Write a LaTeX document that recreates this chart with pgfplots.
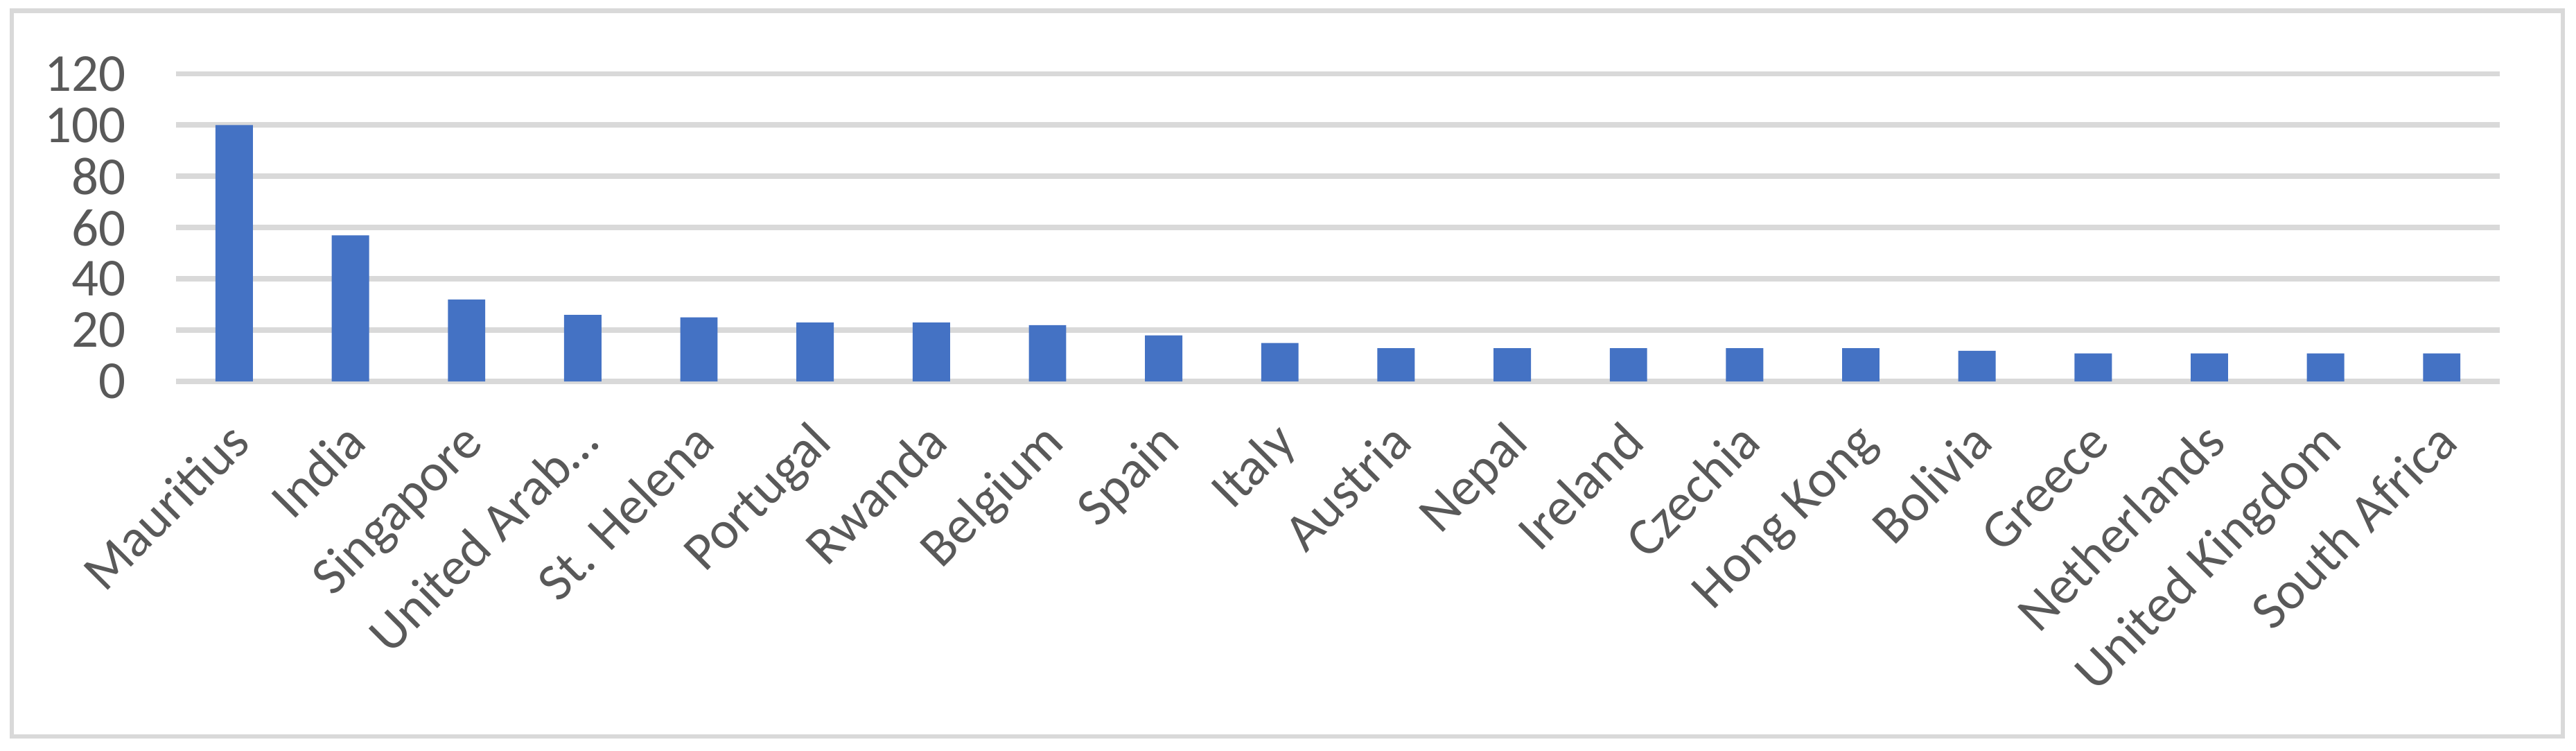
\documentclass[border=0pt]{standalone}
\usepackage{pgfplots}
\pgfplotsset{compat=1.18}
\usepackage{fontspec}
\setmainfont{Carlito}

\definecolor{barblue}{HTML}{4472C4}
\definecolor{gridgray}{HTML}{D9D9D9}
\definecolor{textgray}{HTML}{595959}

\begin{document}
\begin{tikzpicture}
    \begin{axis}[
        scale only axis,
        width=479pt,
        height=63.4pt,
        ybar,
        bar width=7.7pt,
        xmin=-0.5, xmax=19.5,
        ymin=0, ymax=120,
        ytick={0,20,...,120},
        xtick=data,
        xticklabels={Mauritius, India, Singapore, United Arab…, St. Helena,
            Portugal, Rwanda, Belgium, Spain, Italy, Austria, Nepal, Ireland,
            Czechia, Hong Kong, Bolivia, Greece, Netherlands, United Kingdom,
            South Africa},
        ymajorgrids,
        grid style={gridgray, line width=1.1pt},
        axis line style={draw=none},
        major tick length=0pt,
        tick style={draw=none},
        /pgf/number format/assume math mode=true,
        ticklabel style={font=\fontsize{11}{13}\selectfont, text=textgray},
        yticklabel style={anchor=east, inner sep=0pt, xshift=-10.1pt},
        xticklabel style={inner sep=0pt, xshift=3.9pt, yshift=-13pt,
            rotate=45, anchor=base east},
    ]
        \addplot[fill=barblue, draw=none] coordinates {
            (0,100) (1,57) (2,32) (3,26) (4,25)
            (5,23) (6,23) (7,22) (8,18) (9,15)
            (10,13) (11,13) (12,13) (13,13) (14,13)
            (15,12) (16,11) (17,11) (18,11) (19,11)
        };
    \end{axis}
    \draw[gridgray, line width=0.9pt] (-33.9pt,-73.1pt) rectangle (492pt,76.4pt);
    \pgfresetboundingbox
    \path[use as bounding box] (-36.3pt,-76.1pt) rectangle (494.7pt,78.6pt);
\end{tikzpicture}
\end{document}
